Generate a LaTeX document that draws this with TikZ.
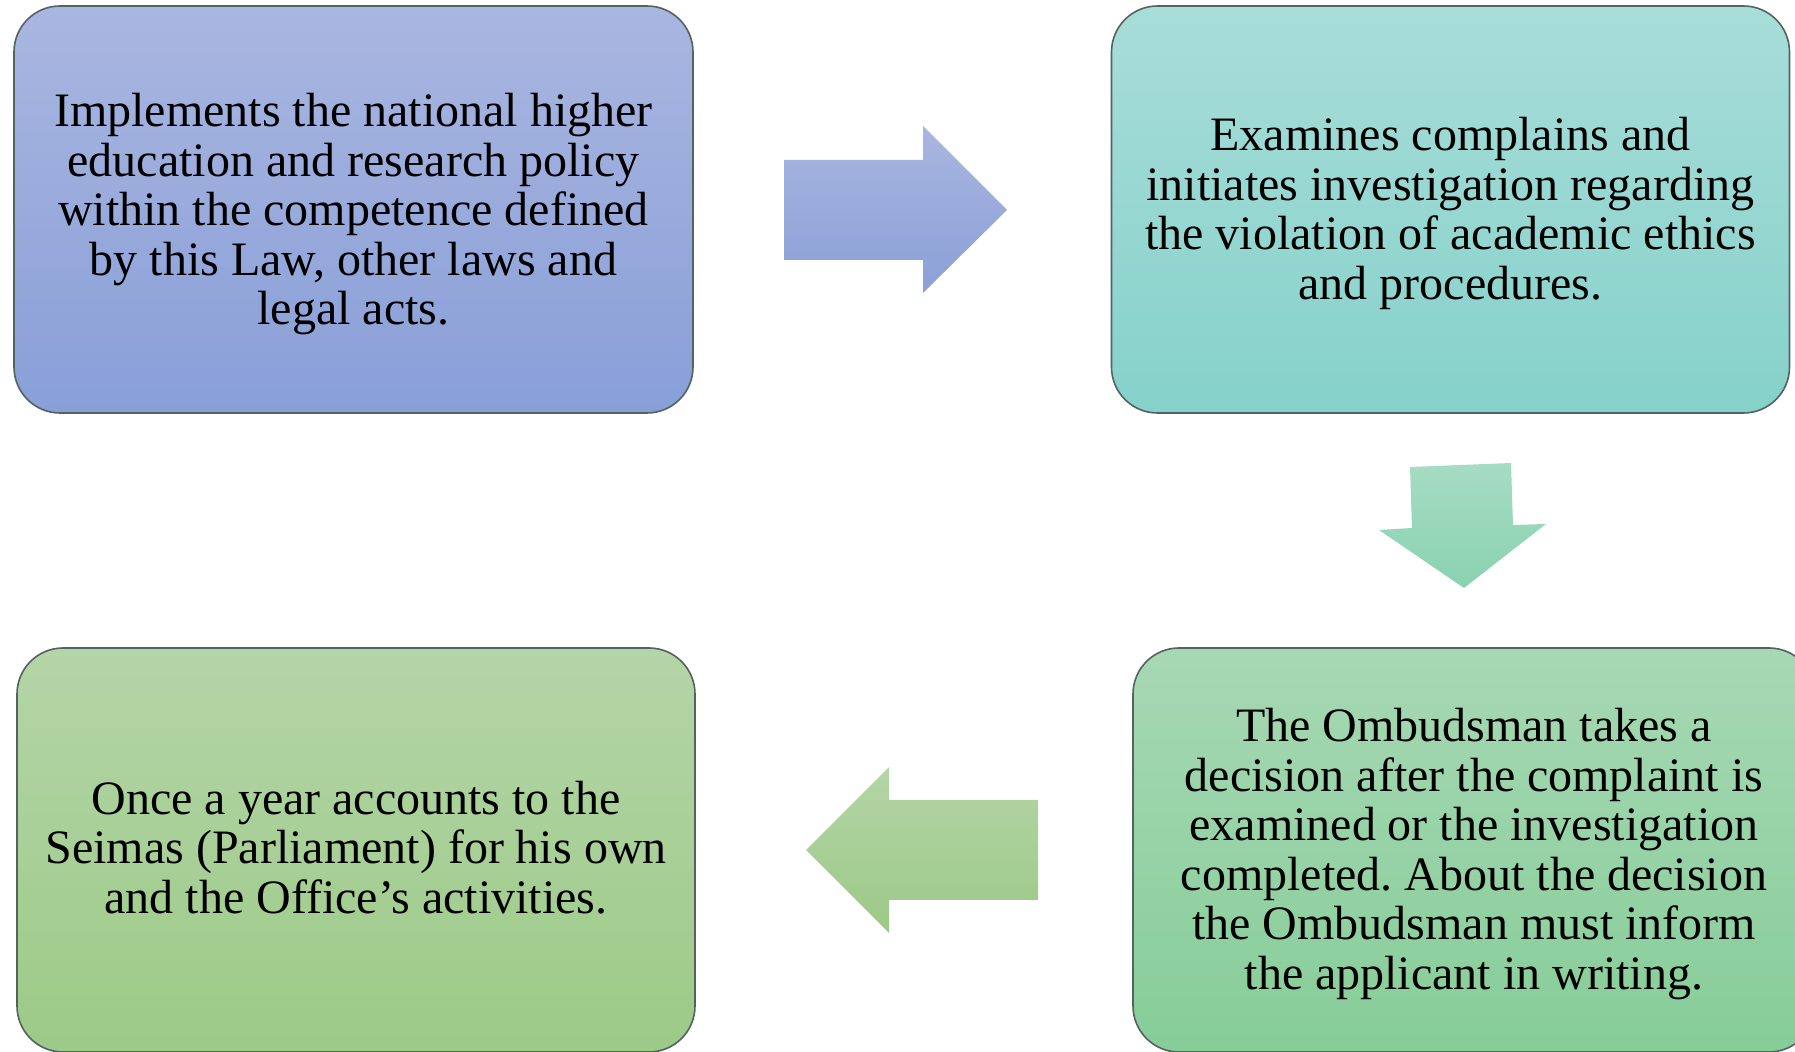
\documentclass[tikz,border=0pt]{standalone}
\usepackage{fontspec}
\setmainfont{Liberation Serif}
\frenchspacing
\definecolor{boxline}{RGB}{84,98,98}
\definecolor{blueTop}{RGB}{169,182,224}
\definecolor{blueBot}{RGB}{137,159,216}
\definecolor{tealTop}{RGB}{168,221,216}
\definecolor{tealBot}{RGB}{134,209,203}
\definecolor{mintTop}{RGB}{167,216,180}
\definecolor{mintBot}{RGB}{134,205,152}
\definecolor{leafTop}{RGB}{180,213,167}
\definecolor{leafBot}{RGB}{156,202,135}
\definecolor{arrBlueTop}{RGB}{169,182,224}
\definecolor{arrBlueBot}{RGB}{138,160,216}
\definecolor{arrMintTop}{RGB}{166,220,196}
\definecolor{arrMintBot}{RGB}{138,210,176}
\definecolor{arrLeafTop}{RGB}{180,213,166}
\definecolor{arrLeafBot}{RGB}{156,201,135}
\begin{document}
\begin{tikzpicture}[x=0.5pt,y=-0.5pt,
  box/.style={draw=boxline, line width=0.8pt, rounded corners=23pt,
    inner sep=0pt},
  boxtext/.style={inner sep=0pt, align=center, text=black,
    font=\fontsize{24pt}{24.75pt}\selectfont},
  blockarrow/.style={draw=none}]
\useasboundingbox (0,0) rectangle (1795,1052);
\clip (0,0) rectangle (1795,1052);

% the four stages
\node[box, top color=blueTop, bottom color=blueBot,
  minimum width=339.5pt, minimum height=203.5pt] (implement) at (353.5,209.5) {};
\node[boxtext, yshift=-2.3pt] (implementtext) at (implement.center)
  {Implements the national higher\\education and research policy\\within the competence defined\\by this Law, other laws and\\legal acts.};

\node[box, top color=tealTop, bottom color=tealBot,
  minimum width=339pt, minimum height=203.5pt] (examine) at (1450.5,209.5) {};
\node[boxtext, yshift=-2pt] (examinetext) at (examine.center)
  {Examines complains and\\initiates investigation regarding\\the violation of academic ethics\\and procedures.};

\node[box, top color=mintTop, bottom color=mintBot,
  minimum width=341pt, minimum height=202pt] (decide) at (1474,850) {};
\node[boxtext, yshift=-2pt] (decidetext) at (decide.center)
  {The Ombudsman takes a\\decision after the complaint is\\examined or the investigation\\completed. About the decision\\the Ombudsman must inform\\the applicant in writing.};

\node[box, top color=leafTop, bottom color=leafBot,
  minimum width=339pt, minimum height=202pt] (report) at (356,850) {};
\node[boxtext, yshift=1.2pt] (reporttext) at (report.center)
  {Once a year accounts to the\\Seimas (Parliament) for his own\\and the Office's activities.};

% block arrows between the stages
\path[blockarrow, top color=arrBlueTop, bottom color=arrBlueBot]
  (784,160) -- (923,160) -- (923,126) -- (1007,210) -- (923,293)
  -- (923,260) -- (784,260) -- cycle;
\path[blockarrow, top color=arrMintTop, bottom color=arrMintBot]
  (1410,467) -- (1511,463) -- (1513,525) -- (1546,524) -- (1464,588)
  -- (1379,530) -- (1412,528) -- cycle;
\path[blockarrow, top color=arrLeafTop, bottom color=arrLeafBot]
  (1038,800) -- (889,800) -- (889,767) -- (806,850) -- (889,933)
  -- (889,900) -- (1038,900) -- cycle;
\end{tikzpicture}
\end{document}
